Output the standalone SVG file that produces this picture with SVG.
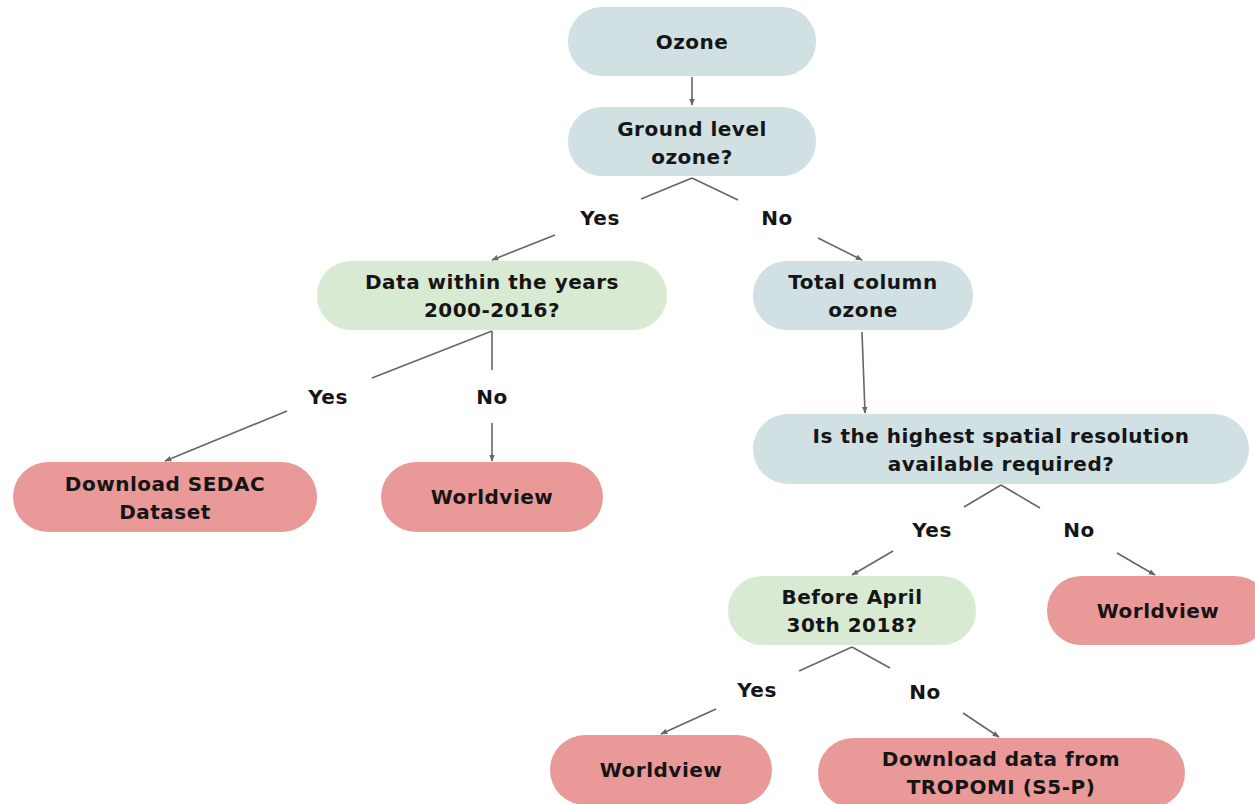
<svg xmlns="http://www.w3.org/2000/svg" width="1255" height="804" viewBox="0 0 1255 804">
<style>
text{font-family:"DejaVu Sans","Open Sans",sans-serif;font-weight:700;font-size:20px;letter-spacing:0.5px;fill:#151515;text-anchor:middle}
.b{fill:#d0e0e3}.g{fill:#d9ead3}.r{fill:#ea9999}
.c line{stroke:#666;stroke-width:1.6}
</style>
<defs>
<marker id="a" viewBox="0 0 10 10" refX="9" refY="5" markerWidth="7" markerHeight="7" orient="auto" markerUnits="userSpaceOnUse">
<path d="M0,1 L10,5 L0,9 z" fill="#666"/>
</marker>
</defs>
<rect width="1255" height="804" fill="#fff"/>
<g class="c">
<line x1="692" y1="77" x2="692" y2="105" marker-end="url(#a)"/>
<line x1="692" y1="178" x2="641" y2="199"/>
<line x1="692" y1="178" x2="738" y2="200"/>
<line x1="555" y1="235" x2="492" y2="260" marker-end="url(#a)"/>
<line x1="818" y1="238" x2="862" y2="260" marker-end="url(#a)"/>
<line x1="492" y1="331" x2="372" y2="378"/>
<line x1="492" y1="331" x2="492" y2="370"/>
<line x1="287" y1="411" x2="165" y2="461" marker-end="url(#a)"/>
<line x1="492" y1="423" x2="492" y2="461" marker-end="url(#a)"/>
<line x1="862" y1="332" x2="865" y2="413" marker-end="url(#a)"/>
<line x1="1001" y1="485" x2="964" y2="507"/>
<line x1="1001" y1="485" x2="1040" y2="508"/>
<line x1="893" y1="551" x2="852" y2="575" marker-end="url(#a)"/>
<line x1="1117" y1="553" x2="1155" y2="575" marker-end="url(#a)"/>
<line x1="852" y1="647" x2="799" y2="671"/>
<line x1="852" y1="647" x2="890" y2="668"/>
<line x1="716" y1="709" x2="661" y2="734" marker-end="url(#a)"/>
<line x1="963" y1="713" x2="999" y2="737" marker-end="url(#a)"/>
</g>
<g id="lbl">
<text x="600" y="225">Yes</text>
<text x="777" y="225">No</text>
<text x="328" y="404">Yes</text>
<text x="492" y="404">No</text>
<text x="932" y="537">Yes</text>
<text x="1079" y="537">No</text>
<text x="757" y="697">Yes</text>
<text x="925" y="699">No</text>
</g>
<g id="ozone"><rect class="b" x="568" y="7" width="248" height="69" rx="34"/><text x="692" y="49">Ozone</text></g>
<g id="ground"><rect class="b" x="568" y="107" width="248" height="69" rx="34"/><text x="692" y="136">Ground level</text><text x="692" y="164">ozone?</text></g>
<g id="years"><rect class="g" x="317" y="261" width="350" height="69" rx="34"/><text x="492" y="289">Data within the years</text><text x="492" y="317">2000-2016?</text></g>
<g id="total"><rect class="b" x="753" y="261" width="220" height="69" rx="34"/><text x="863" y="289">Total column</text><text x="863" y="317">ozone</text></g>
<g id="highest"><rect class="b" x="753" y="414" width="496" height="70" rx="35"/><text x="1001" y="443">Is the highest spatial resolution</text><text x="1001" y="471">available required?</text></g>
<g id="sedac"><rect class="r" x="13" y="462" width="304" height="70" rx="35"/><text x="165" y="491">Download SEDAC</text><text x="165" y="519">Dataset</text></g>
<g id="wv1"><rect class="r" x="381" y="462" width="222" height="70" rx="35"/><text x="492" y="504">Worldview</text></g>
<g id="april"><rect class="g" x="728" y="576" width="248" height="69" rx="34"/><text x="852" y="604">Before April</text><text x="852" y="632">30th 2018?</text></g>
<g id="wv2"><rect class="r" x="1047" y="576" width="222" height="69" rx="34"/><text x="1158" y="618">Worldview</text></g>
<g id="wv3"><rect class="r" x="550" y="735" width="222" height="70" rx="35"/><text x="661" y="777">Worldview</text></g>
<g id="tropomi"><rect class="r" x="818" y="738" width="367" height="70" rx="35"/><text x="1001" y="766">Download data from</text><text x="1001" y="794">TROPOMI (S5-P)</text></g>
</svg>
